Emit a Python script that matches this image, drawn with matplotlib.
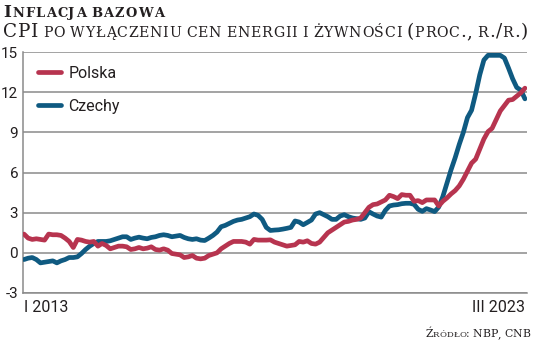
import matplotlib
matplotlib.use("Agg")
import matplotlib.pyplot as plt
import numpy as np
from matplotlib.lines import Line2D

# Core CPI (excluding energy and food), y/y %, monthly from I 2013 to III 2023
polska = [
    1.4, 1.1, 1.0, 1.05, 1.0, 0.95, 1.4, 1.35, 1.35, 1.3, 1.1, 0.85,
    0.4, 1.0, 0.95, 0.85, 0.8, 0.85, 0.5, 0.7, 0.55, 0.3, 0.4, 0.5,
    0.5, 0.45, 0.25, 0.3, 0.4, 0.3, 0.35, 0.45, 0.25, 0.2, 0.3, 0.2,
    -0.05, -0.1, -0.15, -0.35, -0.3, -0.2, -0.4, -0.45, -0.4, -0.2, -0.1, 0.0,
    0.3, 0.5, 0.7, 0.85, 0.85, 0.85, 0.8, 0.65, 1.0, 0.95, 0.95, 0.95,
    0.97, 0.8, 0.7, 0.6, 0.5, 0.55, 0.6, 0.85, 0.8, 0.9, 0.7, 0.65,
    0.8, 1.15, 1.5, 1.7, 1.9, 2.1, 2.3, 2.35, 2.45, 2.5, 2.6, 3.0,
    3.4, 3.6, 3.65, 3.8, 3.95, 4.3, 4.2, 4.05, 4.35, 4.3, 4.3, 3.85,
    3.9, 3.75, 3.95, 3.95, 3.95, 3.5, 3.85, 4.1, 4.4, 4.65, 5.0, 5.5,
    6.1, 6.7, 7.0, 7.75, 8.5, 9.05, 9.3, 9.95, 10.6, 11.0, 11.4, 11.45,
    11.7, 11.95, 12.3,
]
czechy = [
    -0.5, -0.4, -0.35, -0.5, -0.75, -0.7, -0.65, -0.6, -0.75, -0.6, -0.5, -0.35,
    -0.35, -0.3, -0.05, 0.25, 0.5, 0.7, 0.85, 0.85, 0.85, 0.9, 1.0, 1.1,
    1.2, 1.2, 1.0, 1.1, 1.17, 1.1, 1.05, 1.15, 1.2, 1.3, 1.35, 1.3,
    1.2, 1.25, 1.3, 1.15, 1.05, 1.0, 1.05, 0.95, 0.92, 1.1, 1.3, 1.55,
    1.95, 2.05, 2.2, 2.35, 2.45, 2.5, 2.6, 2.7, 2.9, 2.8, 2.5, 1.9,
    1.67, 1.7, 1.72, 1.77, 1.83, 1.9, 2.38, 2.3, 2.1, 2.27, 2.45, 2.9,
    3.0, 2.85, 2.7, 2.5, 2.5, 2.75, 2.85, 2.7, 2.6, 2.55, 2.5, 2.6,
    3.07, 2.9, 2.75, 2.67, 3.17, 3.5, 3.57, 3.6, 3.67, 3.7, 3.7, 3.62,
    3.25, 3.1, 3.3, 3.2, 3.08, 3.42, 4.2, 5.2, 6.2, 7.1, 8.1, 9.0,
    10.1, 10.65, 11.9, 13.3, 14.4, 14.75, 14.75, 14.75, 14.75, 14.55, 13.8, 13.0,
    12.35, 12.15, 11.5,
]
series_names = ["Polska", "Czechy"]
y_ticks = [-3, 0, 3, 6, 9, 12, 15]
x_tick_labels = ["I 2013", "III 2023"]

RED = "#b7344f"
BLUE = "#0f5a81"
GRID = "#8a8a8a"
TEXT = "#231f20"
SANS = ["Liberation Sans Narrow", "Roboto", "DejaVu Sans"]
SERIF = ["DejaVu Serif"]

W, H = 536, 344
fig = plt.figure(figsize=(W / 100, H / 100), dpi=100)
ax = fig.add_axes([23 / W, 1 - 293 / H, (527 - 23) / W, (293 - 52) / H])

months = np.arange(len(polska))
ax.plot(months, czechy, color=BLUE, lw=3.4, solid_capstyle="round",
        solid_joinstyle="round", zorder=3)
ax.plot(months, polska, color=RED, lw=3.4, solid_capstyle="round",
        solid_joinstyle="round", zorder=4)

ax.set_ylim(-3, 15)
ax.set_xlim(-0.25, len(polska) - 0.5)
ax.set_yticks(y_ticks)
ax.set_yticklabels([str(v) for v in y_ticks], family=SANS, fontsize=11, color=TEXT)
ax.yaxis.grid(True, color=GRID, lw=1.1)
ax.set_axisbelow(True)
for side in ("top", "right"):
    ax.spines[side].set_visible(False)
for side in ("left", "bottom"):
    ax.spines[side].set_color(GRID)
    ax.spines[side].set_linewidth(1.1)
ax.tick_params(axis="y", length=0, pad=3.5)
ax.tick_params(axis="x", length=0, pad=5)

ax.set_xticks([0, len(polska) - 1])
ax.set_xticklabels(x_tick_labels, family=SANS, fontsize=11.5, color=TEXT)
xl = ax.get_xticklabels()
xl[0].set_ha("left")
xl[1].set_ha("right")

handles = [Line2D([], [], color=RED, lw=3.4, solid_capstyle="round"),
           Line2D([], [], color=BLUE, lw=3.4, solid_capstyle="round")]
leg = ax.legend(handles, series_names, loc="upper left", bbox_to_anchor=(0.03, 0.942),
                frameon=False, borderpad=0, borderaxespad=0, handlelength=1.45,
                handletextpad=0.45, labelspacing=1.13,
                prop={"family": SANS, "size": 11.5})
for t in leg.get_texts():
    t.set_color(TEXT)


def small_caps(x_px, y_px, text, big, small, ha="left", weight="normal", track=0.0):
    """Draw text in small caps; positions in pixels from the top-left corner."""
    r = fig.canvas.get_renderer()
    words = text.split(" ")
    space = small * 100 / 72 * 0.32
    pieces = []
    for wi, word in enumerate(words):
        for ch in word:
            if ch.isalpha() and ch.islower():
                size, c = small, ch.upper()
            else:
                size, c = big, ch
            t = fig.text(0, 0, c, fontsize=size, family=SERIF, weight=weight,
                         color=TEXT, va="baseline", ha="left")
            adv = t.get_window_extent(r).width
            pieces.append((t, adv + track))
        if wi < len(words) - 1:
            pieces.append((None, space))
    total = sum(w for _, w in pieces)
    cur = x_px - total if ha == "right" else x_px
    for t, w in pieces:
        if t is not None:
            t.set_position((cur / W, 1 - y_px / H))
        cur += w


small_caps(3, 17, "Inflacja bazowa", 12.2, 9.4, weight="bold", track=1.15)
small_caps(3, 37, "CPI po wyłączeniu cen energii i żywności (proc., r./r.)", 13.2, 10.2,
           track=0.7)
small_caps(530, 337, "Źródło: NBP, CNB", 7.8, 6.1, ha="right", track=0.1)

fig.savefig("out.png", dpi=100)
